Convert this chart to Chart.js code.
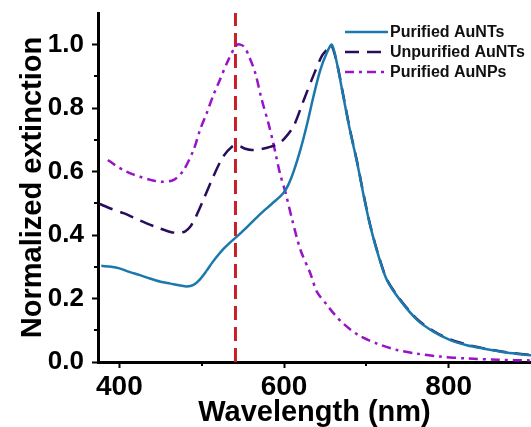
<!DOCTYPE html>
<html>
<head>
<meta charset="utf-8">
<script src="https://cdn.jsdelivr.net/npm/chart.js@4.4.1/dist/chart.umd.min.js"></script>
<style>
  html, body { margin: 0; padding: 0; background: #fff; }
  #wrap { width: 531px; height: 427px; position: relative; }
</style>
</head>
<body>
<div id="wrap"><canvas id="c"></canvas></div>
<script>
// ---------- data ----------
const seriesNames = ["Purified AuNTs", "Unpurified AuNTs", "Purified AuNPs"];

const wlPurifiedNT = [378,390,400,412,425,437,450,462,474,482,490,497,506,513,520,527,535,543,555,571,585,599,606,612,620,628,636,644,652,658,664,672,680,689,697,705,715,725,741,762,782,802,822,843,870,900];
const valPurifiedNT = [0.303,0.300,0.295,0.284,0.274,0.263,0.253,0.247,0.241,0.238,0.243,0.258,0.288,0.314,0.337,0.358,0.378,0.396,0.425,0.466,0.498,0.532,0.563,0.603,0.670,0.750,0.840,0.920,0.975,1.000,0.945,0.837,0.731,0.626,0.521,0.426,0.332,0.258,0.195,0.132,0.095,0.069,0.053,0.042,0.030,0.021];

const wlUnpurifiedNT = [376,390,405,419,433,447,462,472,480,486,492,502,514,526,537,543,553,561,572,584,594,603,612,624,636,646,652,657,664,672,680,689,697,705,715,725,741,762,782,802,822,843,870,900];
const valUnpurifiedNT = [0.498,0.483,0.469,0.453,0.437,0.423,0.410,0.407,0.412,0.426,0.453,0.511,0.584,0.647,0.679,0.684,0.672,0.668,0.671,0.679,0.689,0.712,0.745,0.826,0.905,0.965,0.984,1.000,0.945,0.840,0.733,0.628,0.523,0.428,0.334,0.260,0.197,0.134,0.097,0.071,0.055,0.043,0.031,0.022];

const wlPurifiedNP = [386,395,405,415,425,438,451,466,478,490,498,506,514,522,532,543,551,558,565,573,581,587,595,602,610,620,632,640,652,662,672,690,713,737,762,790,822,860,900];
const valPurifiedNP = [0.637,0.620,0.605,0.593,0.584,0.574,0.568,0.574,0.605,0.668,0.732,0.784,0.840,0.889,0.950,1.000,0.995,0.960,0.911,0.826,0.753,0.689,0.595,0.532,0.447,0.353,0.279,0.221,0.180,0.148,0.121,0.085,0.058,0.038,0.026,0.017,0.011,0.007,0.005];

const markerWavelength = 541;          // red dashed reference line
const xTicks = [400, 600, 800];
const xMinorTicks = [500, 700];
const yTicks = [0.0, 0.2, 0.4, 0.6, 0.8, 1.0];
const yMinorTicks = [0.1, 0.3, 0.5, 0.7, 0.9];
const xRange = [374, 900];
const yRange = [0, 1.1];

// ---------- styling ----------
const colors = ["#1a78ad", "#2a0c5c", "#9814c6"];
const dashes = [[], [14, 8], [9, 5, 3, 5]];
const markerColor = "#c8202a";
const FONT = "'Liberation Sans', Arial, sans-serif";

function pts(xs, ys) { return xs.map((x, i) => ({ x: x, y: ys[i] })); }

const datasets = [
  { label: seriesNames[0], data: pts(wlPurifiedNT, valPurifiedNT) },
  { label: seriesNames[1], data: pts(wlUnpurifiedNT, valUnpurifiedNT) },
  { label: seriesNames[2], data: pts(wlPurifiedNP, valPurifiedNP) }
].map((d, i) => Object.assign(d, {
  borderColor: colors[i], borderWidth: 2.5, borderDash: dashes[i],
  pointRadius: 0, fill: false, tension: 0.3, order: 1
}));

datasets.push({
  label: 'marker',
  data: [{ x: markerWavelength, y: yRange[0] }, { x: markerWavelength, y: yRange[1] }],
  borderColor: markerColor, borderWidth: 3, borderDash: [14, 7],
  pointRadius: 0, fill: false, tension: 0, order: 5
});

const extras = {
  id: 'extras',
  afterDraw(chart) {
    const ctx = chart.ctx;
    const xs = chart.scales.x, ys = chart.scales.y;
    const ca = chart.chartArea;
    ctx.save();
    ctx.strokeStyle = '#000';
    ctx.lineWidth = 2;
    ctx.setLineDash([]);
    yMinorTicks.forEach(v => {
      const y = Math.round(ys.getPixelForValue(v));
      ctx.beginPath(); ctx.moveTo(ca.left - 4, y); ctx.lineTo(ca.left, y); ctx.stroke();
    });
    xMinorTicks.forEach(v => {
      const x = Math.round(xs.getPixelForValue(v));
      ctx.beginPath(); ctx.moveTo(x, ca.bottom); ctx.lineTo(x, ca.bottom + 4); ctx.stroke();
    });
    // legend
    const rowsY = [32, 52, 72];
    const x0 = 345, x1 = 388;
    ctx.font = "bold 16px " + FONT;
    ctx.textBaseline = 'middle';
    ctx.textAlign = 'left';
    seriesNames.forEach((name, i) => {
      ctx.strokeStyle = colors[i];
      ctx.lineWidth = 2.5;
      ctx.setLineDash(dashes[i]);
      ctx.beginPath(); ctx.moveTo(x0, rowsY[i]); ctx.lineTo(x1, rowsY[i]); ctx.stroke();
      ctx.fillStyle = '#111';
      ctx.fillText(name, x1 + 2, rowsY[i] + 1);
    });
    ctx.restore();
  }
};

new Chart(document.getElementById('c'), {
  type: 'line',
  data: { datasets: datasets },
  options: {
    responsive: true, maintainAspectRatio: false, animation: false,
    devicePixelRatio: 1,
    layout: { padding: { top: 13, right: 0, bottom: 0, left: 0 } },
    plugins: { legend: { display: false }, tooltip: { enabled: false } },
    scales: {
      x: {
        type: 'linear', min: xRange[0], max: xRange[1],
        afterBuildTicks(s) { s.ticks = xTicks.map(v => ({ value: v })); },
        afterFit(s) { s.height = 65; s.paddingLeft = 0; s.paddingRight = 0; },
        ticks: { color: '#000', font: { family: FONT, size: 28, weight: 'bold' }, padding: 2, maxRotation: 0, callback: v => String(v) },
        grid: { display: true, drawOnChartArea: false, drawTicks: true, tickLength: 6, tickWidth: 2, tickColor: '#000' },
        border: { display: true, color: '#000', width: 3 },
        title: { display: true, text: 'Wavelength (nm)', color: '#000', font: { family: FONT, size: 29, weight: 'bold', lineHeight: 1 }, padding: { top: 0, bottom: 0 } }
      },
      y: {
        type: 'linear', min: yRange[0], max: yRange[1],
        afterBuildTicks(s) { s.ticks = yTicks.map(v => ({ value: v })); },
        afterFit(s) { s.width = 98; s.paddingTop = 0; s.paddingBottom = 0; },
        ticks: { color: '#000', font: { family: FONT, size: 26, weight: 'bold' }, padding: 8, callback: v => Number(v).toFixed(1) },
        grid: { display: true, drawOnChartArea: false, drawTicks: true, tickLength: 6, tickWidth: 2, tickColor: '#000' },
        border: { display: true, color: '#000', width: 3 },
        title: { display: true, text: 'Normalized extinction', color: '#000', font: { family: FONT, size: 29, weight: 'bold', lineHeight: 1 }, padding: { top: 18, bottom: 0 } }
      }
    }
  },
  plugins: [extras]
});
</script>
</body>
</html>
